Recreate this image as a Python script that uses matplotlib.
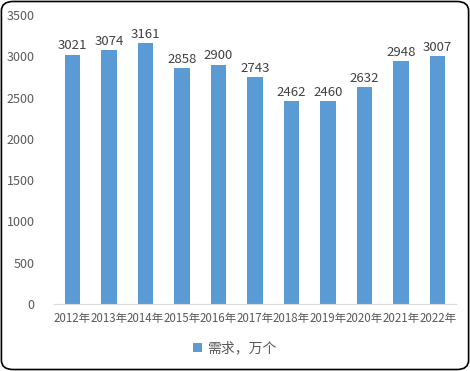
import matplotlib.pyplot as plt
import numpy as np
from matplotlib.patches import FancyBboxPatch

plt.rcParams['font.family'] = ['Noto Sans CJK SC', 'DejaVu Sans']

# Data
years = ['2012年', '2013年', '2014年', '2015年', '2016年', '2017年',
         '2018年', '2019年', '2020年', '2021年', '2022年']
demand = [3021, 3074, 3161, 2858, 2900, 2743, 2462, 2460, 2632, 2948, 3007]
series_name = '需求，万个'
yticks = [0, 500, 1000, 1500, 2000, 2500, 3000, 3500]

fig = plt.figure(figsize=(4.7, 3.71), dpi=100)
ax = fig.add_axes([0.115, 0.1806, 0.855, 0.779])

x = np.arange(len(years))
bars = ax.bar(x, demand, width=0.42, color='#5b9bd5', label=series_name)

# value labels on top
for i in range(len(years)):
    ax.text(x[i], demand[i] + 25, str(demand[i]), ha='center', va='bottom',
            fontsize=9.5, color='#404040')

ax.set_xlim(-0.5, len(years) - 0.5)
ax.set_ylim(0, 3500)
ax.set_yticks(yticks)
ax.set_xticks(x, years)
ax.tick_params(axis='y', length=0, labelsize=9, labelcolor='#595959', pad=14)
ax.tick_params(axis='x', length=0, labelsize=8.3, labelcolor='#595959', pad=6)
for s in ['top', 'right', 'left']:
    ax.spines[s].set_visible(False)
ax.spines['bottom'].set_color('#d9d9d9')

fig.legend(loc='center', bbox_to_anchor=(0.5, 0.06), frameon=False,
           fontsize=10, labelcolor='#595959', handlelength=0.6, handleheight=0.6,
           handletextpad=0.4)

# rounded outer border
border = FancyBboxPatch((0.003, 0.004), 0.994, 0.992, boxstyle='round,pad=0,rounding_size=0.025',
                        transform=fig.transFigure, fill=False, edgecolor='black', linewidth=1.2)
fig.patches.append(border)

fig.savefig('out.png', dpi=100)
